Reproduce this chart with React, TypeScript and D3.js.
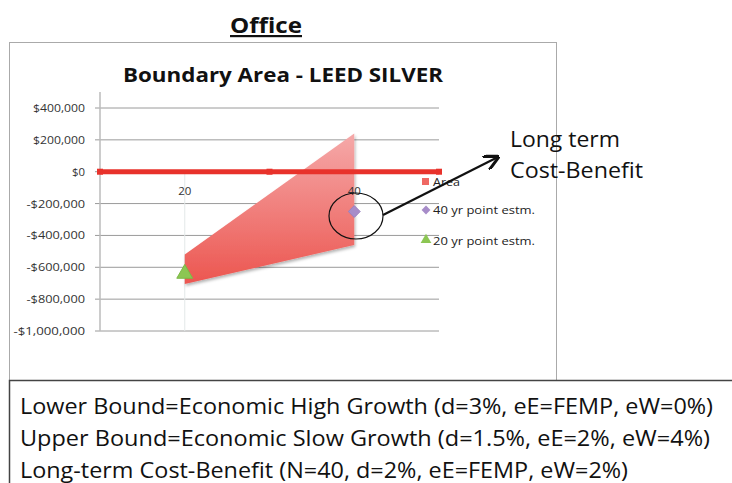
import React from 'react'
import * as d3 from 'd3'

// values
const zeroLineX = [10, 30, 50]
const zeroLineY = [0, 0, 0]
const areaX = [20, 40]
const areaUpper = [-520000, 240000]
const areaLower = [-705000, -460000]
const point40 = { x: 40, y: -250000 }
const point20 = { x: 20, y: -640000 }
const yTicks = [400000, 200000, 0, -200000, -400000, -600000, -800000, -1000000]
const xTicks = [20, 40]
const legendLabels = ['Area', '40 yr point estm.', '20 yr point estm.']
const notes = [
  'Lower Bound=Economic High Growth (d=3%, eE=FEMP, eW=0%)',
  'Upper Bound=Economic Slow Growth (d=1.5%, eE=2%, eW=4%)',
  'Long-term Cost-Benefit (N=40, d=2%, eE=FEMP, eW=2%)',
]
const noteWidths = [693, 690, 608]

const FONT = '"Open Sans", Lato, sans-serif'

export default function App() {
  const x = d3.scaleLinear().domain([10, 50]).range([100, 439])
  const y = d3.scaleLinear().domain([-1000000, 400000]).range([331, 108])

  const fmt = (v: number) => (v < 0 ? '-$' : '$') + d3.format(',')(Math.abs(v))

  const areaPts = areaX.map((d, i) => ({ x: d, hi: areaUpper[i], lo: areaLower[i] }))
  const area = d3.area<any>().x(d => x(d.x)).y0(d => y(d.lo)).y1(d => y(d.hi))
  const zeroLine = d3.line<number>().x(d => x(d)).y((d, i) => y(zeroLineY[i]))

  const diamond = d3.symbol().type(d3.symbolDiamond2).size(90)
  const triangle = d3.symbol().type(d3.symbolTriangle).size(110)

  // stretch the tick labels a bit, the original font is wider
  const tickWidth = (s: string) => s.length * 6.5

  return (
    <svg width={732} height={483} style={{ position: 'absolute', left: 0, top: 0 }}>
      <defs>
        <linearGradient id="areaGrad" x1="0" y1="0" x2="0" y2="1">
          <stop offset="0" stopColor="#f5a9a9" />
          <stop offset="1" stopColor="#ec5650" />
        </linearGradient>
        <filter id="shadow" x="-10%" y="-10%" width="130%" height="130%">
          <feDropShadow dx="1" dy="2" stdDeviation="1.5" floodColor="#000" floodOpacity="0.3" />
        </filter>
        <marker id="arrow" viewBox="0 0 10 10" refX="9" refY="5" markerWidth="7" markerHeight="7" orient="auto">
          <path d="M0,0 L10,5 L0,10" fill="none" stroke="#111" strokeWidth="2" />
        </marker>
      </defs>
      <rect x={0} y={0} width={732} height={483} fill="#fff" />

      <text x={230} y={33} fontFamily={FONT} fontWeight="bold" fontSize={22} textDecoration="underline" fill="#111" textLength={72} lengthAdjust="spacingAndGlyphs">Office</text>

      {/* chart frame */}
      <rect x={9.5} y={42.5} width={547} height={338} fill="#fff" stroke="#aaa" />
      <text x={123} y={82} fontFamily={FONT} fontWeight="bold" fontSize={19} fill="#111" textLength={320} lengthAdjust="spacingAndGlyphs">Boundary Area - LEED SILVER</text>

      {/* grid */}
      {yTicks.map(t => {
        const s = fmt(t)
        return (
          <g key={t}>
            <line x1={95} x2={439} y1={y(t)} y2={y(t)} stroke="#9a9a9a" strokeWidth={1} />
            <text x={85 - tickWidth(s)} y={y(t) + 4} fontFamily={FONT} fontSize={11.5} fill="#333" textLength={tickWidth(s)} lengthAdjust="spacingAndGlyphs">{s}</text>
          </g>
        )
      })}
      <line x1={x(20)} x2={x(20)} y1={y(0)} y2={y(-1000000)} stroke="#e3e8e8" />
      <line x1={100} x2={100} y1={92} y2={y(-1000000)} stroke="#bbb" strokeWidth={1.5} />

      {/* boundary area */}
      <path d={area(areaPts) || ''} fill="url(#areaGrad)" filter="url(#shadow)" />

      {xTicks.map(t => (
        <text key={t} x={x(t)} y={195} textAnchor="middle" fontFamily={FONT} fontSize={11.5} fill="#333">{t}</text>
      ))}

      {/* zero line */}
      <path d={zeroLine(zeroLineX) || ''} fill="none" stroke="#e8322b" strokeWidth={5} />
      {zeroLineX.map(d => (
        <rect key={d} x={x(d) - 3} y={y(0) - 3} width={6} height={6} fill="#e8322b" />
      ))}

      {/* points */}
      <path d={diamond() || ''} transform={`translate(${x(point40.x)},${y(point40.y)})`} fill="#a78cc9" stroke="#9a80bf" />
      <path d={triangle() || ''} transform={`translate(${x(point20.x)},${y(point20.y)})`} fill="#8cc653" stroke="#7cb845" />

      {/* legend */}
      <rect x={422} y={178} width={7} height={7} fill="#ef6863" />
      <text x={433} y={186} fontFamily={FONT} fontSize={11} fill="#222" textLength={27} lengthAdjust="spacingAndGlyphs">{legendLabels[0]}</text>
      <path d={d3.symbol().type(d3.symbolDiamond2).size(50)() || ''} transform="translate(426,210)" fill="#a78cc9" />
      <text x={433} y={214} fontFamily={FONT} fontSize={11} fill="#222" textLength={102} lengthAdjust="spacingAndGlyphs">{legendLabels[1]}</text>
      <path d={d3.symbol().type(d3.symbolTriangle).size(50)() || ''} transform="translate(426,240)" fill="#8cc653" />
      <text x={433} y={245} fontFamily={FONT} fontSize={11} fill="#222" textLength={102} lengthAdjust="spacingAndGlyphs">{legendLabels[2]}</text>

      {/* annotation */}
      <ellipse cx={356} cy={216} rx={27} ry={23} fill="none" stroke="#111" strokeWidth={1.2} />
      <line x1={383} y1={215} x2={498} y2={157} stroke="#111" strokeWidth={2.2} markerEnd="url(#arrow)" />
      <text x={510} y={147} fontFamily={FONT} fontSize={22} fill="#111" textLength={110} lengthAdjust="spacingAndGlyphs">Long term</text>
      <text x={510} y={178} fontFamily={FONT} fontSize={22} fill="#111" textLength={133} lengthAdjust="spacingAndGlyphs">Cost-Benefit</text>

      {/* notes box */}
      <rect x={9.5} y={380.5} width={740} height={120} fill="#fff" stroke="#444" strokeWidth={1.5} />
      {notes.map((n, i) => (
        <text key={i} x={20} y={414 + i * 32} fontFamily={FONT} fontSize={21} fill="#111" textLength={noteWidths[i]} lengthAdjust="spacingAndGlyphs">{n}</text>
      ))}
    </svg>
  )
}
